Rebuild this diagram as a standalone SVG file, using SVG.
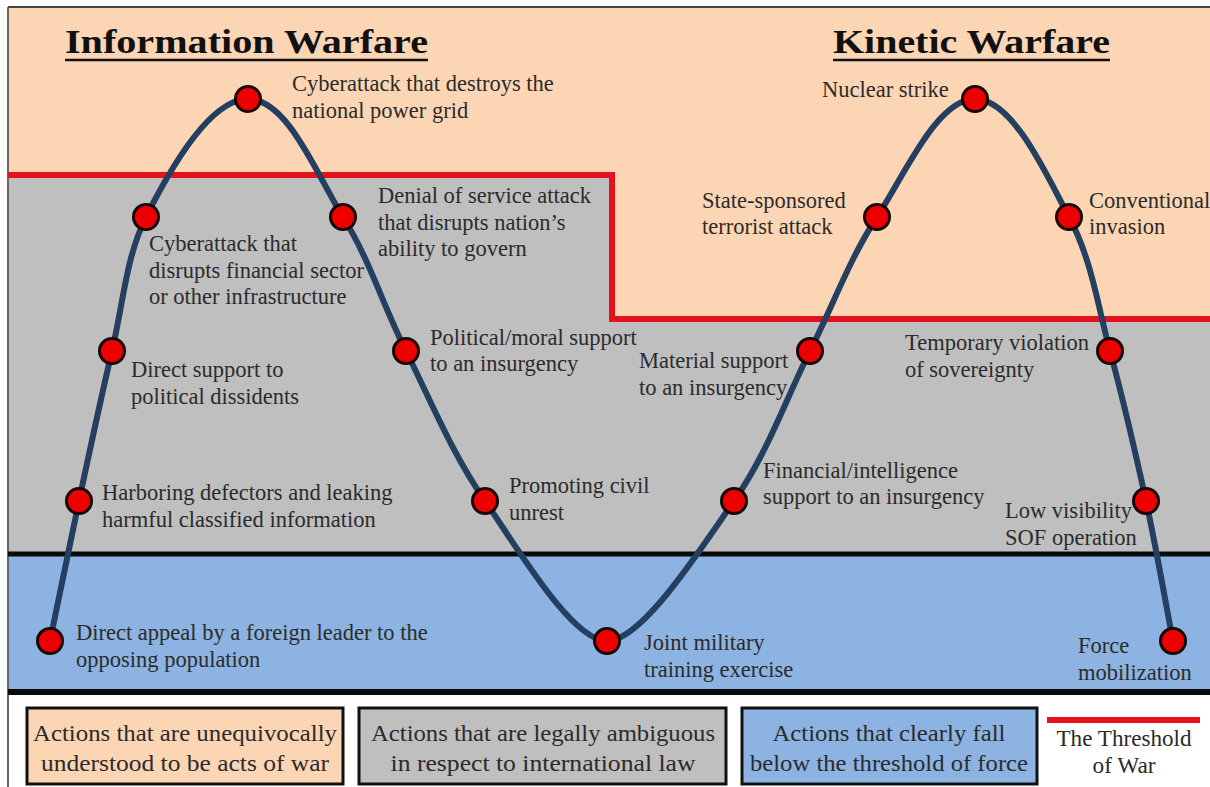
<svg xmlns="http://www.w3.org/2000/svg" width="1210" height="787" viewBox="0 0 1210 787">
<style>
.lbl{font-family:"Liberation Serif","Times New Roman",serif;font-size:22.5px;fill:#2b2b2b}
.ttl{font-family:"Liberation Serif","Times New Roman",serif;font-size:33px;font-weight:bold;fill:#111}
.leg{font-family:"Liberation Serif","Times New Roman",serif;font-size:23px;fill:#2b2b2b;text-anchor:middle}
.dot{fill:#ee0000;stroke:#1a0505;stroke-width:3}
.box{stroke:#111;stroke-width:3}
</style>
<rect x="0" y="0" width="1210" height="787" fill="#ffffff"/>
<!-- regions -->
<rect x="8" y="8" width="1202" height="312" fill="#fcd5b5"/>
<polygon points="8,175 612,175 612,319 1210,319 1210,553 8,553" fill="#bfbfbf"/>
<rect x="8" y="553" width="1202" height="139" fill="#8db3e2"/>
<line x1="8" y1="7" x2="1210" y2="7" stroke="#444" stroke-width="2"/>
<line x1="8" y1="7" x2="8" y2="787" stroke="#666" stroke-width="2"/>
<line x1="8" y1="554" x2="1210" y2="554" stroke="#0a0a0a" stroke-width="5"/>
<line x1="8" y1="692" x2="1210" y2="692" stroke="#0a0a0a" stroke-width="6"/>
<polyline points="8,175 612,175 612,319 1210,319" fill="none" stroke="#e3121c" stroke-width="6"/>
<!-- titles -->
<g id="title-info">
<text class="ttl" x="65" y="53" textLength="363" lengthAdjust="spacingAndGlyphs">Information Warfare</text>
<line x1="65" y1="60" x2="428" y2="60" stroke="#111" stroke-width="2.5"/>
</g>
<g id="title-kinetic">
<text class="ttl" x="833" y="53" textLength="277" lengthAdjust="spacingAndGlyphs">Kinetic Warfare</text>
<line x1="833" y1="60" x2="1110" y2="60" stroke="#111" stroke-width="2.5"/>
</g>
<!-- connectors -->
<g id="connectors">
<path d="M50,641 C59.7,594.3 68.7,549.3 79,501 C89.3,452.7 100.8,398.3 112,351 C123.2,303.7 126,257 146,217 C166,177 208,99 248,99 C288,99 316.7,175 343,217 C369.3,259 382.3,303.7 406,351 C429.7,398.3 451.5,452.7 485,501 C518.5,549.3 572,641 607,641 C642,641 700.2,549.3 734,501 C767.8,452.7 786.2,398.3 810,351 C833.8,303.7 849.5,259 877,217 C904.5,175 937,99 975,99 C1013,99 1046.5,175 1069,217 C1091.5,259 1097.2,303.7 1110,351 C1122.8,398.3 1135.5,452.7 1146,501 C1156.5,549.3 1164,594.3 1173,641" fill="none" stroke="#243f60" stroke-width="6"/>
</g>
<!-- nodes -->
<g id="n-appeal"><circle class="dot" cx="50" cy="641" r="12.5"/><text class="lbl" x="76" y="640">Direct appeal by a foreign leader to the</text><text class="lbl" x="76" y="667">opposing population</text></g>
<g id="n-harboring"><circle class="dot" cx="79" cy="501" r="12.5"/><text class="lbl" x="102" y="500">Harboring defectors and leaking</text><text class="lbl" x="102" y="527">harmful classified information</text></g>
<g id="n-dissidents"><circle class="dot" cx="112" cy="351" r="12.5"/><text class="lbl" x="131" y="377">Direct support to</text><text class="lbl" x="131" y="404">political dissidents</text></g>
<g id="n-financial-cyber"><circle class="dot" cx="146" cy="217" r="12.5"/><text class="lbl" x="149" y="251">Cyberattack that</text><text class="lbl" x="149" y="278">disrupts financial sector</text><text class="lbl" x="149" y="304">or other infrastructure</text></g>
<g id="n-grid"><circle class="dot" cx="248" cy="99" r="12.5"/><text class="lbl" x="292" y="91">Cyberattack that destroys the</text><text class="lbl" x="292" y="118">national power grid</text></g>
<g id="n-dos"><circle class="dot" cx="343" cy="217" r="12.5"/><text class="lbl" x="378" y="203">Denial of service attack</text><text class="lbl" x="378" y="230">that disrupts nation’s</text><text class="lbl" x="378" y="256">ability to govern</text></g>
<g id="n-political"><circle class="dot" cx="406" cy="351" r="12.5"/><text class="lbl" x="430" y="345">Political/moral support</text><text class="lbl" x="430" y="371">to an insurgency</text></g>
<g id="n-unrest"><circle class="dot" cx="485" cy="501" r="12.5"/><text class="lbl" x="509" y="493">Promoting civil</text><text class="lbl" x="509" y="520">unrest</text></g>
<g id="n-joint"><circle class="dot" cx="607" cy="641" r="12.5"/><text class="lbl" x="644" y="650">Joint military</text><text class="lbl" x="644" y="677">training exercise</text></g>
<g id="n-fin-intel"><circle class="dot" cx="734" cy="501" r="12.5"/><text class="lbl" x="763" y="478">Financial/intelligence</text><text class="lbl" x="763" y="504">support to an insurgency</text></g>
<g id="n-material"><circle class="dot" cx="810" cy="351" r="12.5"/><text class="lbl" x="639" y="368">Material support</text><text class="lbl" x="639" y="395">to an insurgency</text></g>
<g id="n-terror"><circle class="dot" cx="877" cy="217" r="12.5"/><text class="lbl" x="702" y="208">State-sponsored</text><text class="lbl" x="702" y="234">terrorist attack</text></g>
<g id="n-nuclear"><circle class="dot" cx="975" cy="99" r="12.5"/><text class="lbl" x="822" y="97">Nuclear strike</text></g>
<g id="n-invasion"><circle class="dot" cx="1069" cy="217" r="12.5"/><text class="lbl" x="1089" y="208">Conventional</text><text class="lbl" x="1089" y="234">invasion</text></g>
<g id="n-sovereignty"><circle class="dot" cx="1110" cy="351" r="12.5"/><text class="lbl" x="905" y="350">Temporary violation</text><text class="lbl" x="905" y="377">of sovereignty</text></g>
<g id="n-sof"><circle class="dot" cx="1146" cy="501" r="12.5"/><text class="lbl" x="1005" y="518">Low visibility</text><text class="lbl" x="1005" y="545">SOF operation</text></g>
<g id="n-mobilization"><circle class="dot" cx="1173" cy="641" r="12.5"/><text class="lbl" x="1078" y="653">Force</text><text class="lbl" x="1078" y="680">mobilization</text></g>
<!-- legend -->
<g id="legend-war"><rect class="box" x="27" y="708" width="316" height="76" fill="#fcd5b5"/><text class="leg" x="185" y="741" textLength="304" lengthAdjust="spacingAndGlyphs">Actions that are unequivocally</text><text class="leg" x="185" y="771" textLength="288" lengthAdjust="spacingAndGlyphs">understood to be acts of war</text></g>
<g id="legend-ambiguous"><rect class="box" x="359" y="708" width="367" height="76" fill="#bfbfbf"/><text class="leg" x="543" y="741" textLength="344" lengthAdjust="spacingAndGlyphs">Actions that are legally ambiguous</text><text class="leg" x="543" y="771" textLength="305" lengthAdjust="spacingAndGlyphs">in respect to international law</text></g>
<g id="legend-below"><rect class="box" x="742" y="708" width="295" height="76" fill="#8db3e2"/><text class="leg" x="889" y="741" textLength="233" lengthAdjust="spacingAndGlyphs">Actions that clearly fall</text><text class="leg" x="889" y="771" textLength="278" lengthAdjust="spacingAndGlyphs">below the threshold of force</text></g>
<g id="legend-threshold"><line x1="1047" y1="720" x2="1200" y2="720" stroke="#e3121c" stroke-width="6"/><text class="leg" x="1124" y="746" textLength="135" lengthAdjust="spacingAndGlyphs">The Threshold</text><text class="leg" x="1124" y="773" textLength="63" lengthAdjust="spacingAndGlyphs">of War</text></g>
</svg>
